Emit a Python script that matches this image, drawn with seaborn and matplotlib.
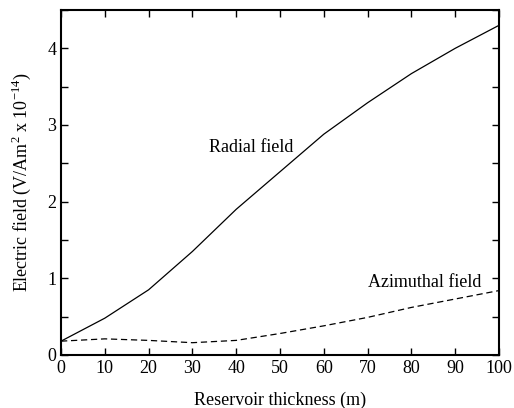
import pandas as pd
import seaborn as sns
import matplotlib.pyplot as plt
from matplotlib.ticker import MultipleLocator

# data
thickness = [0, 10, 20, 30, 40, 50, 60, 70, 80, 90, 100]
radial = [0.18, 0.48, 0.85, 1.35, 1.90, 2.39, 2.88, 3.29, 3.67, 4.00, 4.30]
azimuthal = [0.18, 0.21, 0.19, 0.16, 0.19, 0.28, 0.38, 0.49, 0.62, 0.73, 0.84]

df = pd.DataFrame({
    'thickness': thickness * 2,
    'field': radial + azimuthal,
    'kind': ['Radial field'] * len(radial) + ['Azimuthal field'] * len(azimuthal),
})

sns.set_style('ticks')
plt.rcParams['font.family'] = ['Liberation Serif', 'DejaVu Serif']
plt.rcParams['mathtext.fontset'] = 'custom'
plt.rcParams['mathtext.rm'] = 'Liberation Serif'
plt.rcParams['axes.unicode_minus'] = False
plt.rcParams['text.color'] = 'black'
plt.rcParams['axes.labelcolor'] = 'black'
plt.rcParams['xtick.color'] = 'black'
plt.rcParams['ytick.color'] = 'black'
plt.rcParams['axes.edgecolor'] = 'black'

fig = plt.figure(figsize=(5.14, 4.08), dpi=100)
ax = fig.add_axes([0.1187, 0.13, 0.8521, 0.8455])

sns.lineplot(data=df, x='thickness', y='field', style='kind',
             dashes={'Radial field': '', 'Azimuthal field': (5, 3)},
             color='black', linewidth=0.9, legend=False, ax=ax)

fs = 13
ax.set_xlim(0, 100)
ax.set_ylim(0, 4.5)
ax.xaxis.set_major_locator(MultipleLocator(10))
ax.yaxis.set_major_locator(MultipleLocator(1))
ax.yaxis.set_minor_locator(MultipleLocator(0.5))
ax.tick_params(which='both', direction='in', top=True, right=True,
               labelsize=fs, width=1.0, length=5)
for s in ax.spines.values():
    s.set_linewidth(1.5)

ax.set_xlabel('Reservoir thickness (m)', fontsize=fs, labelpad=11)
ax.set_ylabel('Electric field (V/Am$^2$ x 10$^{-14}$)', fontsize=fs, labelpad=10)

ax.text(33.8, 2.71, 'Radial field', fontsize=fs, ha='left', va='center')
ax.text(95.9, 0.94, 'Azimuthal field', fontsize=fs, ha='right', va='center')

fig.savefig('out.png', dpi=100)
